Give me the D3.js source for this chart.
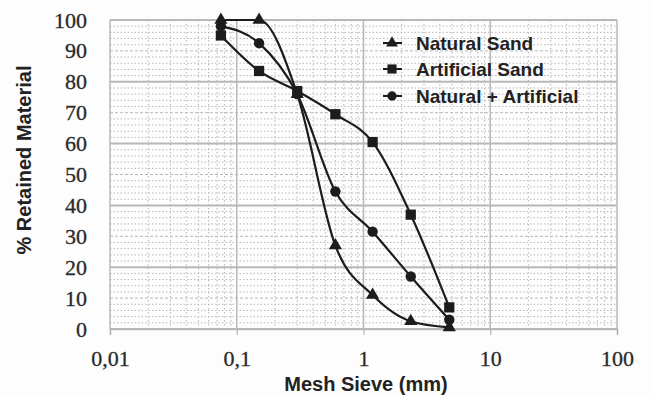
<!DOCTYPE html>
<html>
<head>
<meta charset="utf-8">
<script src="https://cdn.jsdelivr.net/npm/d3@7/dist/d3.min.js"></script>
<style>
  html, body { margin: 0; padding: 0; background: #fdfdfd; }
  svg { display: block; }
  .title { font-family: "Liberation Sans", Arial, sans-serif; font-weight: bold; fill: #222; }
</style>
</head>
<body>
<svg id="chart" width="650" height="398"></svg>
<script>
// Sieve openings (mm) and percentage retained for each sand
const sieves = [0.075, 0.15, 0.3, 0.6, 1.18, 2.36, 4.75];
const naturalSand = [100, 100, 76, 27, 11, 2.5, 0.5];
const artificialSand = [95, 83.5, 77, 69.5, 60.5, 37, 7];
const naturalPlusArtificial = [98, 92.5, 76, 44.5, 31.5, 17, 3];

const seriesNames = ["Natural Sand", "Artificial Sand", "Natural + Artificial"];
const seriesSymbols = ["triangle", "square", "circle"];

const xTickValues = [0.01, 0.1, 1, 10, 100];
const xTickLabels = ["0,01", "0,1", "1", "10", "100"];
const yTickValues = [0, 10, 20, 30, 40, 50, 60, 70, 80, 90, 100];

const svg = d3.select("#chart");
const plotLeft = 110, plotRight = 617, plotTop = 20, plotBottom = 329;

const x = d3.scaleLog().domain([0.01, 100]).range([plotLeft, plotRight]);
const y = d3.scaleLinear().domain([0, 100]).range([plotBottom, plotTop]);

const gridColor = "#b8b8b8";
const grid = svg.append("g");

// Minor horizontal grid: dotted every 2 %
d3.range(0, 101, 2).filter(v => v % 20 !== 0).forEach(v => {
  grid.append("line")
    .attr("x1", plotLeft).attr("x2", plotRight)
    .attr("y1", y(v)).attr("y2", y(v))
    .attr("stroke", gridColor).attr("stroke-width", 1)
    .attr("stroke-dasharray", v % 10 === 0 ? "3,2" : "1.5,2");
});
// Major horizontal grid every 20 %
d3.range(0, 101, 20).forEach(v => {
  grid.append("line")
    .attr("x1", plotLeft).attr("x2", plotRight)
    .attr("y1", y(v)).attr("y2", y(v))
    .attr("stroke", gridColor).attr("stroke-width", 2);
});
// Minor vertical grid at 2..9 within each decade
[0.01, 0.1, 1, 10].forEach(d => {
  d3.range(2, 10).forEach(m => {
    grid.append("line")
      .attr("x1", x(d * m)).attr("x2", x(d * m))
      .attr("y1", plotTop).attr("y2", plotBottom)
      .attr("stroke", gridColor).attr("stroke-width", 1)
      .attr("stroke-dasharray", "1.5,2.5");
  });
});
// Decade lines
xTickValues.forEach(v => {
  grid.append("line")
    .attr("x1", x(v)).attr("x2", x(v))
    .attr("y1", plotTop).attr("y2", plotBottom)
    .attr("stroke", gridColor).attr("stroke-width", 1.5);
});

const serifFont = "'Liberation Serif', 'DejaVu Serif', serif";

// Axes
const xAxis = d3.axisBottom(x)
  .tickValues(xTickValues)
  .tickFormat((d, i) => xTickLabels[i])
  .tickSize(6).tickPadding(15);
const gx = svg.append("g").attr("transform", `translate(0,${plotBottom})`).call(xAxis);
gx.select(".domain").attr("stroke", gridColor).attr("stroke-width", 1.5);
gx.selectAll(".tick line").attr("stroke", "#aaa");
gx.selectAll(".tick text")
  .style("font-family", serifFont).style("font-size", "22px")
  .style("fill", "#2a2a2a").style("stroke", "#2a2a2a").style("stroke-width", "0.3px");

const yAxis = d3.axisLeft(y).tickValues(yTickValues).tickSize(0).tickPadding(23);
const gy = svg.append("g").attr("transform", `translate(${plotLeft},0)`).call(yAxis);
gy.select(".domain").remove();
gy.selectAll(".tick text")
  .style("font-family", serifFont).style("font-size", "22px")
  .style("fill", "#2a2a2a").style("stroke", "#2a2a2a").style("stroke-width", "0.3px");

// Axis titles
svg.append("text")
  .attr("class", "title")
  .attr("x", 366).attr("y", 391)
  .attr("text-anchor", "middle")
  .style("font-size", "20px")
  .text("Mesh Sieve (mm)");
svg.append("text")
  .attr("class", "title")
  .attr("transform", "translate(31,160) rotate(-90)")
  .attr("text-anchor", "middle")
  .style("font-size", "20px")
  .text("% Retained Material");

// Data series
const allSeries = [naturalSand, artificialSand, naturalPlusArtificial];
const symbolTypes = { triangle: d3.symbolTriangle, square: d3.symbolSquare, circle: d3.symbolCircle };
const symbolSizes = { triangle: 75, square: 105, circle: 85 };
const ink = "#1c1c1c";

const line = d3.line()
  .x(d => x(d[0]))
  .y(d => y(d[1]))
  .curve(d3.curveMonotoneX);

allSeries.forEach((vals, i) => {
  const pts = sieves.map((s, k) => [s, vals[k]]);
  svg.append("path")
    .attr("d", line(pts))
    .attr("fill", "none").attr("stroke", ink).attr("stroke-width", 2.2);
  const sym = d3.symbol().type(symbolTypes[seriesSymbols[i]]).size(symbolSizes[seriesSymbols[i]]);
  svg.append("g").selectAll("path").data(pts).join("path")
    .attr("transform", d => `translate(${x(d[0])},${y(d[1])})`)
    .attr("d", sym).attr("fill", ink);
});

// Legend
const legend = svg.append("g");
const legendY = [43, 69, 96];
seriesNames.forEach((name, i) => {
  const ly = legendY[i];
  legend.append("line")
    .attr("x1", 383).attr("x2", 402).attr("y1", ly).attr("y2", ly)
    .attr("stroke", ink).attr("stroke-width", 2);
  legend.append("path")
    .attr("transform", `translate(392,${ly})`)
    .attr("d", d3.symbol().type(symbolTypes[seriesSymbols[i]]).size(symbolSizes[seriesSymbols[i]] * 0.8))
    .attr("fill", ink);
  legend.append("text")
    .attr("class", "title")
    .attr("x", 416).attr("y", ly + 6.5)
    .style("font-size", "19px")
    .text(name);
});
</script>
</body>
</html>
